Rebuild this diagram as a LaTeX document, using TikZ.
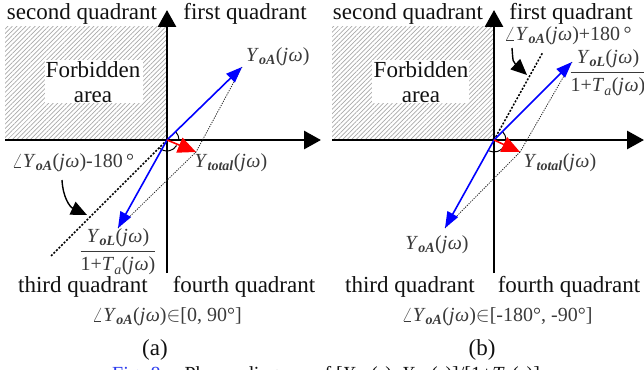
\documentclass[tikz,border=0pt]{standalone}
\usepackage{fontspec}
\setmainfont{Liberation Serif}
\usetikzlibrary{arrows.meta,patterns.meta}
\definecolor{ink}{HTML}{111111}
\definecolor{lblgray}{HTML}{3A3A3A}
\definecolor{vecblue}{HTML}{0000FF}
\definecolor{vecred}{HTML}{FF0000}
\definecolor{hatchgray}{HTML}{A8A8A8}
\definecolor{figblue}{HTML}{2B3BEE}
\newcommand{\phasor}[1]{\textit{Y}\textsubscript{\bfseries\itshape #1}(\textit{j}\kern0.5pt\textit{ω})}
\newcommand{\loopgain}{1+\textit{T}\textsubscript{\itshape a}(\textit{j}\kern0.5pt\textit{ω})}
\tikzset{
  axis/.style={line width=2.8pt,draw=black,-{Triangle[length=17pt,width=18pt]}},
  vec/.style={line width=1.6pt,draw=vecblue,-{Triangle[length=16pt,width=12pt]}},
  tot/.style={line width=1.6pt,draw=vecred,-{Triangle[length=18pt,width=16pt]}},
  refline/.style={line width=1.5pt,dash pattern=on 2pt off 1.6pt},
  guide/.style={line width=0.8pt,dash pattern=on 1.2pt off 1.2pt,draw=black!85},
  bendarrow/.style={line width=1.4pt,-{Triangle[length=16pt,width=14pt]}},
  anglearc/.style={line width=1pt},
  big/.style={font=\fontsize{23}{25}\selectfont,text=ink,inner sep=0pt},
  lbl/.style={font=\fontsize{20}{22}\selectfont,text=lblgray,inner sep=0pt},
  hatch/.style={pattern={Lines[angle=45,distance=3.2pt,line width=0.7pt]},pattern color=hatchgray}
}

\begin{document}
\begin{tikzpicture}[x=1pt,y=1pt]
  \useasboundingbox (0,0) rectangle (644,-369);

  % (a)
  \fill[hatch] (5,-27) rectangle (167,-140);
  \fill[white] (45,-60) rectangle (143,-103);
  \node[big,align=center] (forba) at (93,-82) {Forbidden\\area};
  \coordinate (oa) at (167,-140);
  \coordinate (ya) at (242,-67);
  \coordinate (la) at (118,-228);
  \coordinate (ta) at (196,-152);
  \coordinate (ra) at (50,-257);
  \draw[axis] (167,-273) -- (167,-10);
  \draw[axis] (5,-140) -- (321,-140);
  \draw[refline] (oa) -- (ra);
  \draw[guide] (ya) -- (ta);
  \draw[guide] (la) -- (ta);
  \draw[anglearc] (oa) ++(44:12) arc[start angle=44,end angle=0,radius=12];
  \draw[anglearc] (oa) ++(225:11) arc[start angle=225,end angle=330,radius=11];
  \draw[vec] (oa) -- (ya);
  \draw[vec] (oa) -- (la);
  \draw[tot] (oa) -- (ta);
  \node[big] (q2a) at (82,-14) {second quadrant};
  \node[big] (q1a) at (245,-14) {first quadrant};
  \node[big] (q3a) at (83,-287) {third quadrant};
  \node[big] (q4a) at (244,-287) {fourth quadrant};
  \node[lbl,anchor=west] (yalbl) at (246,-57) {\phasor{oA}};
  \node[lbl] (talbl) at (231,-163) {\phasor{total}};
  \node[lbl] (angla) at (73,-163) {$\angle$\phasor{oA}-180\,°};
  \node[lbl] (frca) at (118,-252)
    {$\displaystyle\frac{\mbox{\phasor{oL}}}{\mbox{\loopgain}}$};
  \node[lbl] (rnga) at (167,-317) {$\angle$\phasor{oA}$\in$[0, 90°]};
  \node[big] (capa) at (155,-350) {(a)};
  \coordinate (sa) at (62,-180);
  \coordinate (ea) at (87,-215);
  \draw[bendarrow] (sa) .. controls (63,-198) and (70,-207) .. (ea);

  % (b)
  \fill[hatch] (332,-27) rectangle (494,-140);
  \fill[white] (372,-60) rectangle (469,-103);
  \node[big,align=center] (forbb) at (421,-82) {Forbidden\\area};
  \coordinate (ob) at (494,-140);
  \coordinate (yb) at (445,-228);
  \coordinate (lb) at (572,-62);
  \coordinate (tb) at (520,-152);
  \coordinate (rb) at (543,-52);
  \draw[axis] (494,-273) -- (494,-10);
  \draw[axis] (332,-140) -- (644,-140);
  \draw[refline] (ob) -- (rb);
  \draw[guide] (lb) -- (tb);
  \draw[guide] (yb) -- (tb);
  \draw[anglearc] (ob) ++(45:12) arc[start angle=45,end angle=0,radius=12];
  \draw[anglearc] (ob) ++(245:12) arc[start angle=245,end angle=330,radius=12];
  \draw[vec] (ob) -- (lb);
  \draw[vec] (ob) -- (yb);
  \draw[tot] (ob) -- (tb);
  \node[big] (q2b) at (408,-14) {second quadrant};
  \node[big] (q1b) at (571,-14) {first quadrant};
  \node[big] (q3b) at (410,-287) {third quadrant};
  \node[big] (q4b) at (569,-287) {fourth quadrant};
  \node[lbl] (anglb) at (568,-36) {$\angle$\phasor{oA}+180\,°};
  \node[lbl] (frcb) at (608,-73)
    {$\displaystyle\frac{\mbox{\phasor{oL}}}{\mbox{\loopgain}}$};
  \node[lbl] (tblbl) at (560,-163) {\phasor{total}};
  \node[lbl] (yblbl) at (437,-245) {\phasor{oA}};
  \node[lbl] (rngb) at (497,-317) {$\angle$\phasor{oA}$\in$[-180°, -90°]};
  \node[big] (capb) at (482,-350) {(b)};
  \coordinate (sb) at (512,-48);
  \coordinate (eb) at (527,-75);
  \draw[bendarrow] (sb) .. controls (513,-62) .. (eb);

  % caption, cut by the page edge
  \node[lbl,text=ink,anchor=base west] (figcap) at (112,-380)
    {\textcolor{figblue}{Fig. 8.}\hspace{19pt}Phasor diagram of [\textit{Y}\textsubscript{\itshape oL}(\textit{s})--\textit{Y}\textsubscript{\itshape oA}(\textit{s})]/[1+\textit{T}\textsubscript{\itshape a}(\textit{s})]};
\end{tikzpicture}
\end{document}
